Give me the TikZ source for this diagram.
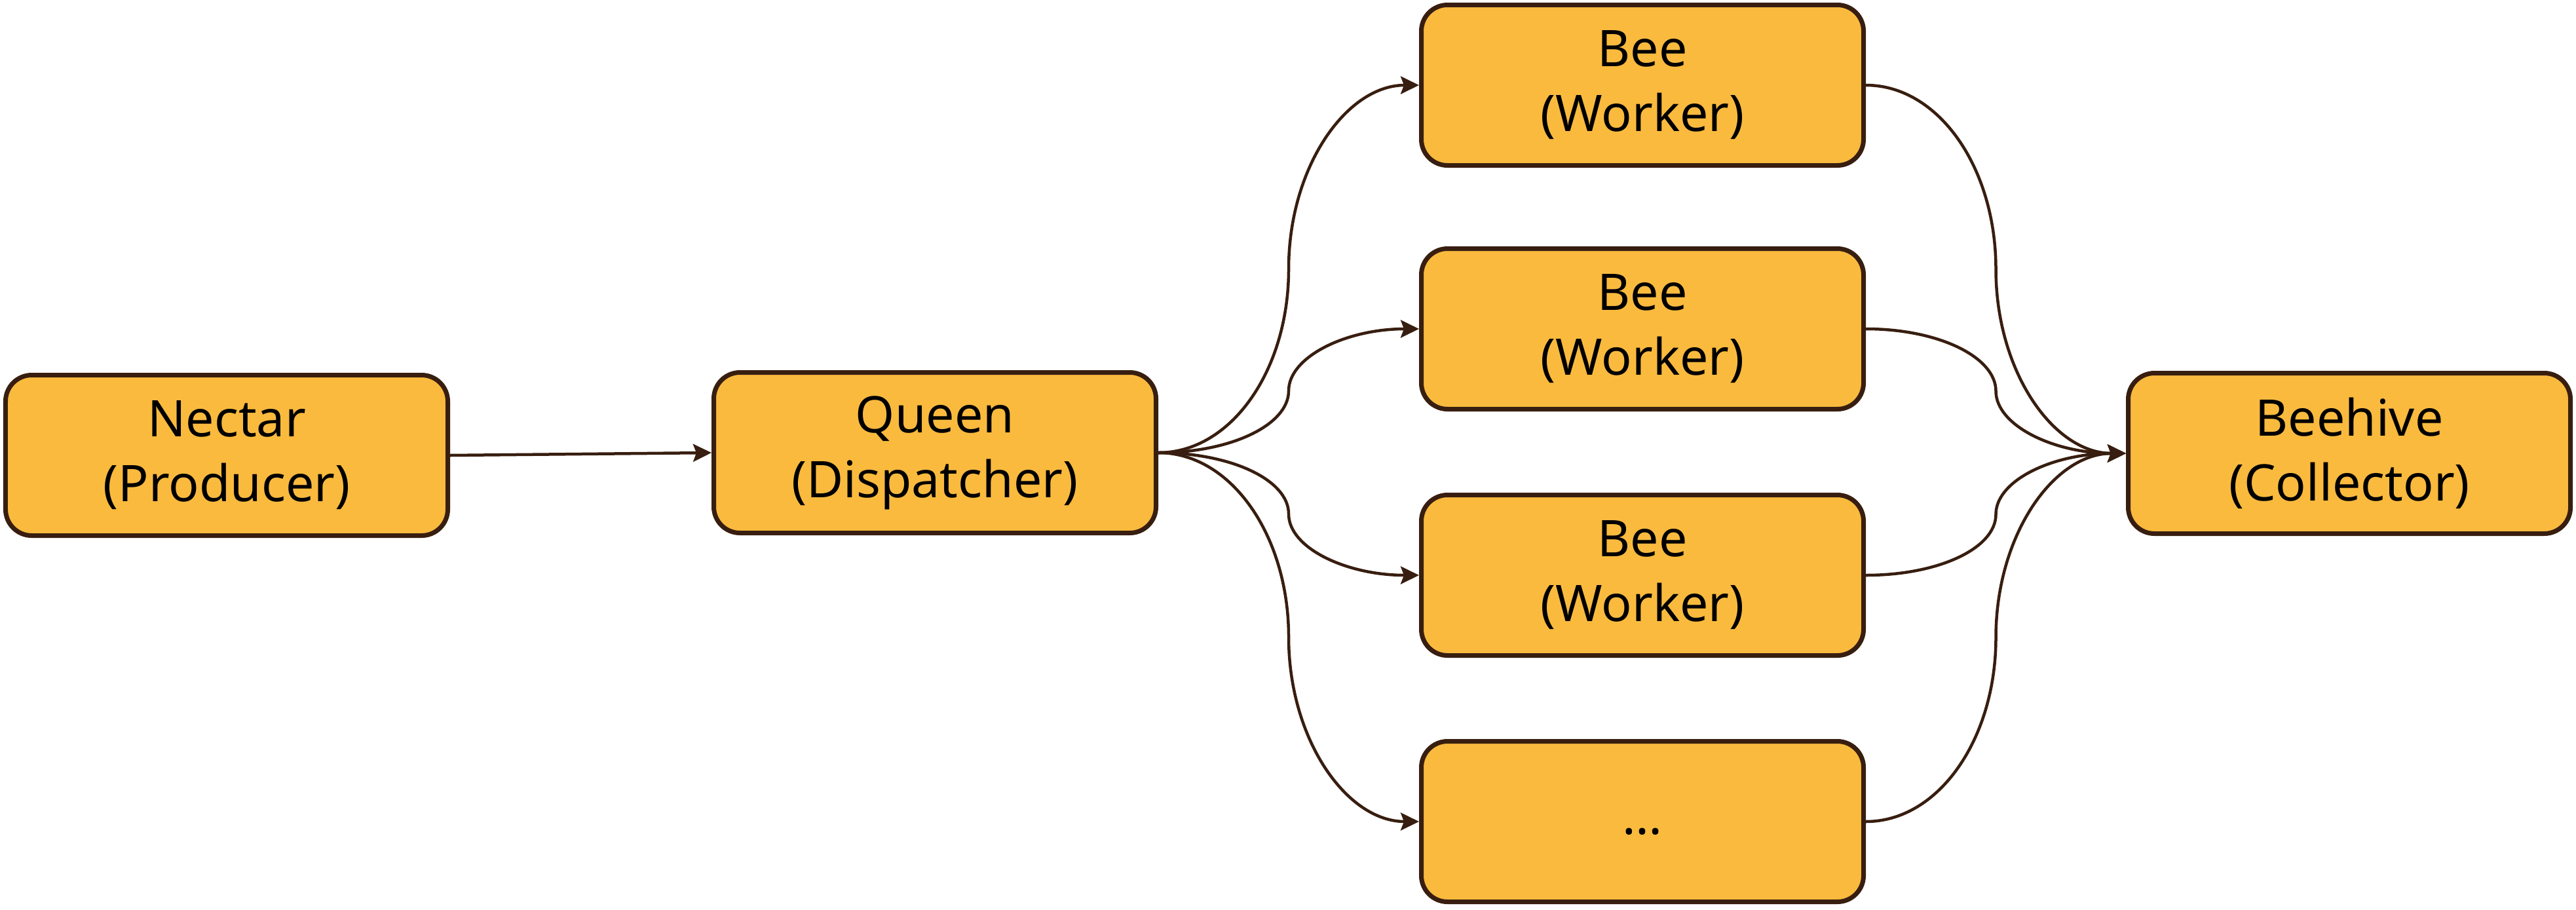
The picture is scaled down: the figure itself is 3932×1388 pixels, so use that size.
\documentclass[tikz,border=0pt]{standalone}
\usepackage{fontspec}
\setmainfont{Noto Sans}
\usetikzlibrary{arrows.meta,calc}
\definecolor{honey}{RGB}{249,186,62}
\definecolor{bark}{RGB}{56,30,16}
\tikzset{
  box/.style={draw=bark, fill=honey, line width=1.4pt, rounded corners=8pt,
    minimum width=135pt, minimum height=49pt, inner sep=0pt, align=center,
    font=\fontsize{15.4}{19.8}\selectfont},
  flow/.style={draw=bark, line width=0.9pt, -{Stealth[length=5.6pt,width=5.4pt,inset=1pt]}}
}
\begin{document}
\begin{tikzpicture}[x=0.2pt, y=-0.2pt]
            \useasboundingbox (0,0) rectangle (3932,1388);
            \node[box] (N) at (346,695) {Nectar\\(Producer)};
            \node[box] (Q) at (1427,691) {Queen\\(Dispatcher)};
            \node[box] (B1) at (2507,130) {Bee\\(Worker)};
            \node[box] (B2) at (2507,502) {Bee\\(Worker)};
            \node[box] (B3) at (2507,878) {Bee\\(Worker)};
            \node[box] (B4) at (2507,1254) {\strut…};
            \node[box] (H) at (3586,692) {Beehive\\(Collector)};
            \draw [flow] (N.east) -- (Q.west);
            \draw [flow] (Q.east) .. controls +(111,0) and +(0,155) .. ($(Q.east)!.5!(B1.west)$) .. controls +(0,-155) and +(-111,0) .. (B1.west);
            \draw [flow] (Q.east) .. controls +(111,0) and +(0,52) .. ($(Q.east)!.5!(B2.west)$) .. controls +(0,-52) and +(-111,0) .. (B2.west);
            \draw [flow] (Q.east) .. controls +(111,0) and +(0,-52) .. ($(Q.east)!.5!(B3.west)$) .. controls +(0,52) and +(-111,0) .. (B3.west);
            \draw [flow] (Q.east) .. controls +(111,0) and +(0,-155) .. ($(Q.east)!.5!(B4.west)$) .. controls +(0,155) and +(-111,0) .. (B4.west);
            \draw [flow] (B1.east) .. controls +(111,0) and +(0,-155) .. ($(B1.east)!.5!(H.west)$) .. controls +(0,155) and +(-111,0) .. (H.west);
            \draw [flow] (B2.east) .. controls +(111,0) and +(0,-52) .. ($(B2.east)!.5!(H.west)$) .. controls +(0,52) and +(-111,0) .. (H.west);
            \draw [flow] (B3.east) .. controls +(111,0) and +(0,52) .. ($(B3.east)!.5!(H.west)$) .. controls +(0,-52) and +(-111,0) .. (H.west);
            \draw [flow] (B4.east) .. controls +(111,0) and +(0,155) .. ($(B4.east)!.5!(H.west)$) .. controls +(0,-155) and +(-111,0) .. (H.west);
\end{tikzpicture}
\end{document}
